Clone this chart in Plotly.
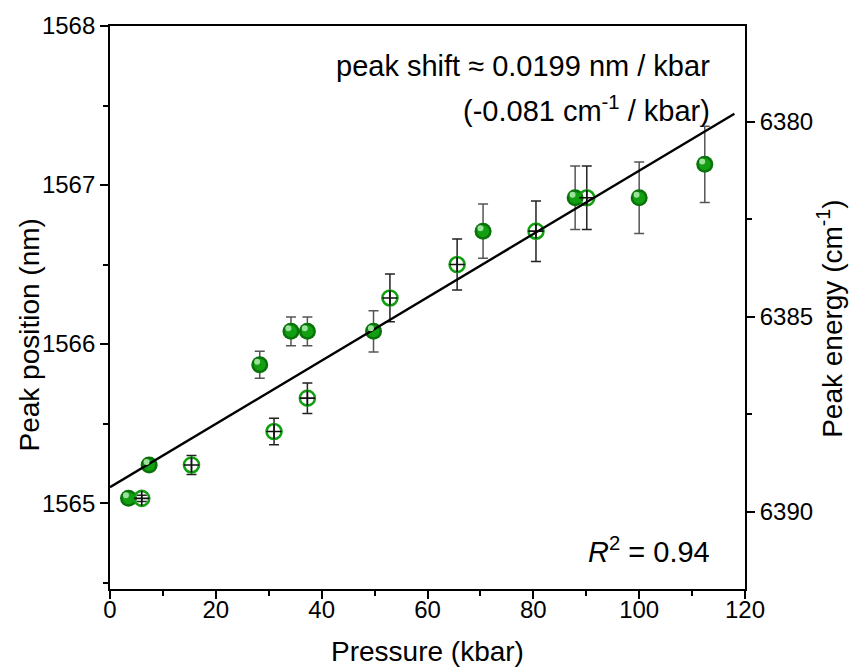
import plotly.graph_objects as go

# Pressure series, filled markers (kbar, nm, error nm)
p_fill = [3.5, 7.4, 28.3, 34.2, 37.3, 49.8, 70.5, 87.9, 100.0, 112.4]
wl_fill = [1565.03, 1565.24, 1565.87, 1566.08, 1566.08, 1566.08, 1566.71, 1566.92, 1566.92, 1567.13]
err_fill = [0.02, 0.03, 0.085, 0.09, 0.09, 0.13, 0.17, 0.20, 0.225, 0.24]

# Pressure series, open markers
p_open = [6.0, 15.4, 31.0, 37.3, 52.9, 65.6, 80.5, 90.1]
wl_open = [1565.03, 1565.24, 1565.45, 1565.66, 1566.29, 1566.50, 1566.71, 1566.92]
err_open = [0.02, 0.06, 0.083, 0.096, 0.15, 0.16, 0.19, 0.20]

# Linear fit
fit_slope = 0.0199
fit_intercept = 1565.10
fit_x = [0.0, 118.0]

x_range = [0, 120]
y_range = [1564.46, 1568.0]
# right axis: photon energy in cm^-1 (1e7 / wavelength in nm), decreasing upward
y2_range = [1e7 / y_range[0], 1e7 / y_range[1]]

FONT = "Liberation Sans, Arial, sans-serif"
GREEN_DARK = "#0a720a"
GREEN_MID = "#12a012"
GREEN_HI = "#9be29b"

fig = go.Figure()

# error bars
fig.add_trace(go.Scatter(
    x=p_fill, y=wl_fill, mode="markers",
    marker=dict(size=1, color="rgba(0,0,0,0)"),
    error_y=dict(type="data", array=err_fill, color="#555555", thickness=1.5, width=5),
    showlegend=False, hoverinfo="skip"))
fig.add_trace(go.Scatter(
    x=p_open, y=wl_open, mode="markers",
    marker=dict(size=1, color="rgba(0,0,0,0)"),
    error_y=dict(type="data", array=err_open, color="#222222", thickness=1.5, width=5),
    showlegend=False, hoverinfo="skip"))

# shaded sphere markers
fig.add_trace(go.Scatter(
    x=p_fill, y=wl_fill, mode="markers",
    marker=dict(size=17, color=GREEN_DARK, line=dict(width=0)),
    showlegend=False))
fig.add_trace(go.Scatter(
    x=p_fill, y=wl_fill, mode="markers",
    marker=dict(size=12, color=GREEN_MID, line=dict(width=0)),
    showlegend=False))
# highlight, drawn on a slightly shifted overlay axis pair
fig.add_trace(go.Scatter(
    x=p_fill, y=wl_fill, mode="markers", xaxis="x3", yaxis="y3",
    marker=dict(size=6, color=GREEN_HI, line=dict(width=0)),
    showlegend=False))

# open markers with crosshair
fig.add_trace(go.Scatter(
    x=p_open, y=wl_open, mode="markers",
    marker=dict(size=15, symbol="circle-open", color=GREEN_MID, line=dict(width=2.6, color=GREEN_MID)),
    showlegend=False))
fig.add_trace(go.Scatter(
    x=p_open, y=wl_open, mode="markers",
    marker=dict(size=11, symbol="cross-thin-open", color="#111111", line=dict(width=1.6, color="#111111")),
    showlegend=False))

# fit line
fig.add_trace(go.Scatter(
    x=fit_x, y=[fit_intercept + fit_slope * v for v in fit_x], mode="lines",
    line=dict(color="black", width=2.4), showlegend=False))

# dummy trace so the right axis is drawn
fig.add_trace(go.Scatter(x=[None], y=[None], yaxis="y2", showlegend=False))

tickfont = dict(family=FONT, size=24, color="black")
titlefont = dict(family=FONT, size=28, color="black")
notefont = dict(family=FONT, size=29, color="black")

dx = 2.6 / 5.292   # kbar per px shift
dy = 3.0 / 160.0   # nm per px shift

fig.update_layout(
    width=855, height=671,
    margin=dict(l=110, r=110, t=22, b=82),
    paper_bgcolor="white", plot_bgcolor="white",
    font=dict(family=FONT, color="black"),
    xaxis=dict(
        range=x_range, tickvals=[0, 20, 40, 60, 80, 100, 120],
        showline=True, linecolor="black", linewidth=1.8, mirror=True,
        ticks="outside", ticklen=8, tickwidth=1.5, tickcolor="black",
        ticklabelstandoff=-10,
        minor=dict(dtick=10, tick0=0, ticks="outside", ticklen=5, tickwidth=1.5, tickcolor="black"),
        showgrid=False, zeroline=False, tickfont=tickfont,
    ),
    yaxis=dict(
        range=y_range, tickvals=[1565, 1566, 1567, 1568],
        showline=True, linecolor="black", linewidth=1.8,
        ticks="outside", ticklen=8, tickwidth=1.5, tickcolor="black",
        minor=dict(dtick=0.5, tick0=1565, ticks="outside", ticklen=5, tickwidth=1.5, tickcolor="black"),
        showgrid=False, zeroline=False, tickfont=tickfont, tickformat="d",
    ),
    yaxis2=dict(
        range=y2_range, overlaying="y", side="right", tickvals=[6380, 6385, 6390],
        showline=True, linecolor="black", linewidth=1.8,
        ticks="outside", ticklen=8, tickwidth=1.5, tickcolor="black",
        minor=dict(dtick=2.5, tick0=6380, ticks="outside", ticklen=5, tickwidth=1.5, tickcolor="black"),
        showgrid=False, zeroline=False, tickfont=tickfont, tickformat="d",
    ),
    xaxis3=dict(range=[x_range[0] + dx, x_range[1] + dx], overlaying="x", visible=False),
    yaxis3=dict(range=[y_range[0] - dy, y_range[1] - dy], overlaying="y", visible=False),
    annotations=[
        # axis titles
        dict(text="Pressure (kbar)", xref="paper", yref="paper",
             x=0.5, y=-0.111, xanchor="center", yanchor="middle", showarrow=False,
             font=titlefont),
        dict(text="Peak position (nm)", xref="paper", yref="paper", textangle=-90,
             x=-0.126, y=0.452, xanchor="center", yanchor="middle", showarrow=False,
             font=titlefont),
        dict(text="Peak energy (cm<sup>-1</sup>)", xref="paper", yref="paper", textangle=-90,
             x=1.134, y=0.480, xanchor="center", yanchor="middle", showarrow=False,
             font=titlefont),
        # fit notes
        dict(text="peak shift \u2248 0.0199 nm / kbar", xref="paper", yref="paper",
             x=0.948, y=0.929, xanchor="right", yanchor="middle", showarrow=False,
             font=notefont),
        dict(text="(-0.081 cm<sup>-1</sup> / kbar)", xref="paper", yref="paper",
             x=0.948, y=0.852, xanchor="right", yanchor="middle", showarrow=False,
             font=notefont),
        dict(text="<i>R</i><sup>2</sup> = 0.94", xref="paper", yref="paper",
             x=0.948, y=0.069, xanchor="right", yanchor="middle", showarrow=False,
             font=notefont),
    ],
)

fig.write_html("out.html")
